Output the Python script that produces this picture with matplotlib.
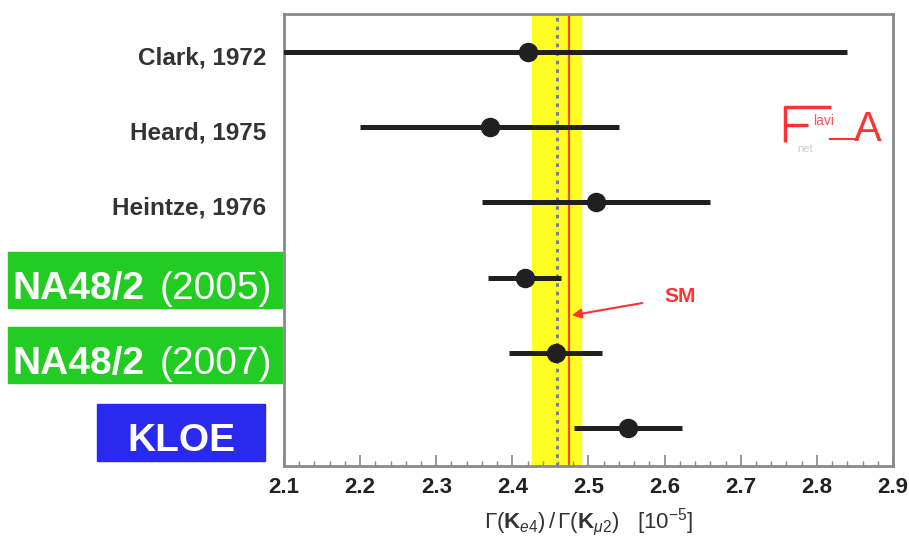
import matplotlib.pyplot as plt
from matplotlib.patches import Rectangle

plt.rcParams['font.family'] = ['Liberation Sans', 'DejaVu Sans']
plt.rcParams['mathtext.fontset'] = 'custom'
plt.rcParams['mathtext.rm'] = 'Liberation Sans'
plt.rcParams['mathtext.it'] = 'Liberation Sans:italic'
plt.rcParams['mathtext.bf'] = 'Liberation Sans:bold'

# measurements, Gamma(Ke4)/Gamma(Kmu2) [1e-5]
labels = ['Clark, 1972', 'Heard, 1975', 'Heintze, 1976',
          'NA48/2 (2005)', 'NA48/2 (2007)', 'KLOE']
values = [2.42, 2.37, 2.51, 2.416, 2.457, 2.552]
errors = [0.42, 0.17, 0.15, 0.048, 0.061, 0.071]

sm_value = 2.474
band_lo, band_hi = 2.426, 2.490
avg_value = 2.459

W, H = 909, 543
AX_L, AX_R, AX_T, AX_B = 284, 893, 14, 466


def ax_x(px):
    # pixel column -> axes fraction
    return (px - AX_L) / (AX_R - AX_L)


fig = plt.figure(figsize=(W / 100, H / 100), dpi=100)
ax = fig.add_axes([AX_L / W, 1 - AX_B / H, (AX_R - AX_L) / W, (AX_B - AX_T) / H])

rows = list(range(len(labels)))

ax.axvspan(band_lo, band_hi, color='#ffff22', zorder=1)
ax.axvline(avg_value, color='#7a7aa8', lw=2.2, ls=(0, (1.2, 1.6)), zorder=2)
ax.axvline(sm_value, color='#ff4a1a', lw=1.6, zorder=2)

ax.errorbar(values, rows, xerr=errors, fmt='o', color='#202020',
            ms=13, elinewidth=3.6, capsize=0, zorder=3, clip_on=True)

ax.set_xlim(2.1, 2.9)
ax.set_ylim(len(labels) - 0.5, -0.5)
ax.set_xticks([2.1 + 0.1 * i for i in range(9)])
ax.set_xticks([2.1 + 0.02 * i for i in range(41)], minor=True)
ax.set_xticklabels(['%.1f' % (2.1 + 0.1 * i) for i in range(9)],
                   fontweight='bold', fontsize=16, color='#222222')
ax.tick_params(axis='x', which='major', direction='in', length=8, width=1.2,
               color='#888888', pad=8)
ax.tick_params(axis='x', which='minor', direction='in', length=3.5, width=1,
               color='#888888')
ax.tick_params(axis='y', left=False, labelleft=False)
for sp in ax.spines.values():
    sp.set_color('#8a8a8a')
    sp.set_linewidth(2)

ax.set_xlabel(r'$\Gamma(\mathbf{K}_{e4})\,/\,\Gamma(\mathbf{K}_{\mu2})$   [10$^{-5}$]',
              fontsize=16, color='#333333', labelpad=6)

# row labels
tr = ax.get_yaxis_transform()
for i in range(3):
    ax.text(ax_x(266), rows[i] + 0.08, labels[i], transform=tr, ha='right',
            va='center', fontsize=17.5, fontweight='bold', color='#333333',
            clip_on=False)

for i in (3, 4):
    ax.add_patch(Rectangle((ax_x(8), rows[i] - 0.34), ax_x(282) - ax_x(8), 0.74,
                           transform=tr, color='#22cc22', clip_on=False, zorder=0))
    name, year = labels[i].split(' ')
    ax.text(ax_x(12), rows[i] + 0.28, name, transform=tr, ha='left',
            va='baseline', fontsize=28, fontweight='bold', color='white',
            clip_on=False)
    ax.text(ax_x(160), rows[i] + 0.28, year, transform=tr, ha='left',
            va='baseline', fontsize=28, color='white', clip_on=False)

ax.add_patch(Rectangle((ax_x(97), rows[5] - 0.32), ax_x(265) - ax_x(97), 0.76,
                       transform=tr, color='#2a2aee', clip_on=False, zorder=0))
ax.text(ax_x(181), rows[5] + 0.3, labels[5], transform=tr, ha='center',
        va='baseline', fontsize=28, fontweight='bold', color='white',
        clip_on=False)

# SM arrow
ax.annotate('SM', xy=(sm_value + 0.004, 3.5), xytext=(2.62, 3.25),
            fontsize=15, fontweight='bold', color='#ff3333', ha='center',
            va='center',
            arrowprops=dict(arrowstyle='-|>', color='#ff3333', lw=1.5,
                            mutation_scale=14, shrinkA=14, shrinkB=0))

# FlaviA logo (F drawn as strokes)
logo = '#ff3333'
ax.plot([ax_x(785), ax_x(785)], [0.72, 1.2], transform=tr, color=logo, lw=2.5,
        solid_capstyle='butt')
ax.plot([ax_x(784), ax_x(831)], [0.74, 0.74], transform=tr, color=logo, lw=2.5,
        solid_capstyle='butt')
ax.plot([ax_x(784), ax_x(808)], [0.98, 0.98], transform=tr, color=logo, lw=2.5,
        solid_capstyle='butt')
ax.text(ax_x(813), 0.98, 'lavi', transform=tr, fontsize=10, color='#ff5555',
        va='baseline', ha='left')
ax.text(ax_x(797), 1.33, 'net', transform=tr, fontsize=8, color='#cccccc',
        va='baseline', ha='left')
ax.plot([ax_x(830), ax_x(856)], [1.16, 1.16], transform=tr, color=logo, lw=1.5)
ax.text(ax_x(854), 1.18, 'A', transform=tr, fontsize=30, color=logo,
        va='baseline', ha='left')

fig.savefig('out.png', dpi=100)
